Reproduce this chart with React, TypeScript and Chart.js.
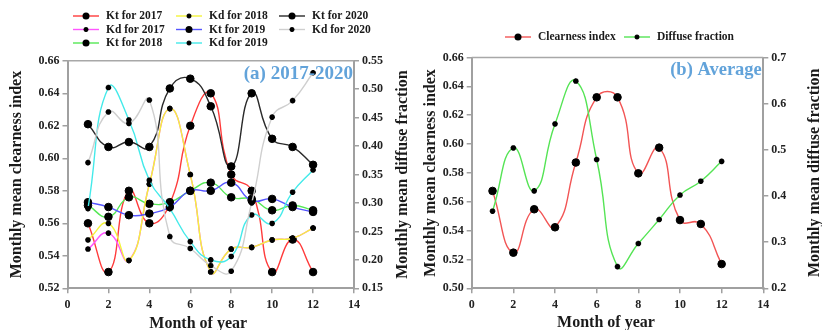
import React, { useEffect, useRef } from 'react';
import { Chart, registerables } from 'chart.js';
Chart.register(...registerables);

const SERIF = '"Liberation Serif", "Times New Roman", serif';

// ---------- data ----------
const MONTHS = [1, 2, 3, 4, 5, 6, 7, 8, 9, 10, 11, 12];

const KT_2017 = [0.560, 0.530, 0.580, 0.560, 0.572, 0.620, 0.640, 0.590, 0.580, 0.530, 0.550, 0.530];
const KD_2017 = [0.219, 0.247, 0.199, 0.333, 0.466, 0.350, 0.179, 0.219, 0.222, 0.235, 0.238, 0.256];
const KT_2018 = [0.571, 0.564, 0.576, 0.572, 0.573, 0.580, 0.585, 0.576, 0.575, 0.568, 0.571, 0.568];
const KD_2018 = [0.235, 0.264, 0.199, 0.333, 0.466, 0.350, 0.179, 0.219, 0.222, 0.235, 0.238, 0.256];
const KT_2019 = [0.573, 0.570, 0.565, 0.566, 0.570, 0.580, 0.580, 0.585, 0.574, 0.575, 0.570, 0.567];
const KD_2019 = [0.290, 0.503, 0.446, 0.340, 0.290, 0.232, 0.200, 0.206, 0.279, 0.264, 0.319, 0.358];
const KT_2020 = [0.621, 0.607, 0.610, 0.607, 0.643, 0.649, 0.632, 0.595, 0.640, 0.612, 0.607, 0.596];
const KD_2020 = [0.371, 0.460, 0.440, 0.481, 0.241, 0.220, 0.190, 0.180, 0.300, 0.451, 0.480, 0.529];

const AVG_CLEARNESS = [0.5675, 0.5247, 0.5548, 0.5423, 0.5872, 0.6324, 0.6324, 0.5797, 0.5975, 0.5473, 0.5446, 0.5168];
const AVG_DIFFUSE = [0.367, 0.504, 0.411, 0.556, 0.649, 0.479, 0.247, 0.297, 0.349, 0.402, 0.432, 0.475];

const X_TITLE = 'Month of year';
const KT_TITLE = 'Monthly mean clearness index';
const KD_TITLE = 'Monthly mean diffuse fraction';

// ---------- helpers ----------
const pts = (vals: number[]) => MONTHS.map((m, i) => ({ x: m, y: vals[i] }));

function series(label: string, vals: number[], color: string, kind: 'kt' | 'kd', axis: string, idx: number) {
  const isKt = kind === 'kt';
  return {
    label,
    data: pts(vals),
    borderColor: color,
    backgroundColor: color,
    borderWidth: 1.4,
    tension: 0.5,
    yAxisID: axis,
    pointStyle: isKt ? 'circle' : 'star',
    pointRadius: isKt ? 3.8 : 2.8,
    pointBorderWidth: isKt ? 1 : 1.8,
    pointBackgroundColor: '#000',
    pointBorderColor: '#000',
    order: 20 - idx,
    kind,
  } as any;
}

function drawMarker(ctx: CanvasRenderingContext2D, kind: string, x: number, y: number, r: number) {
  ctx.save();
  ctx.fillStyle = '#000';
  ctx.strokeStyle = '#000';
  if (kind === 'kt') {
    ctx.beginPath();
    ctx.arc(x, y, r, 0, Math.PI * 2);
    ctx.fill();
  } else {
    ctx.lineWidth = 1.5;
    ctx.beginPath();
    for (let k = 0; k < 4; k++) {
      const a = (k * Math.PI) / 4;
      ctx.moveTo(x - Math.cos(a) * r, y - Math.sin(a) * r);
      ctx.lineTo(x + Math.cos(a) * r, y + Math.sin(a) * r);
    }
    ctx.stroke();
  }
  ctx.restore();
}

const decorPlugin = {
  id: 'decor',
  afterDraw(chart: any, _args: any, opts: any) {
    const ctx: CanvasRenderingContext2D = chart.ctx;
    const ca = chart.chartArea;
    ctx.save();
    // top frame line
    ctx.strokeStyle = '#a8a8a8';
    ctx.lineWidth = 1.5;
    ctx.beginPath();
    ctx.moveTo(ca.left, ca.top);
    ctx.lineTo(ca.right, ca.top);
    ctx.stroke();

    // axis titles
    ctx.fillStyle = '#1a1a1a';
    ctx.textAlign = 'center';
    ctx.textBaseline = 'middle';
    ctx.font = `bold 16px ${SERIF}`;
    const cy = (ca.top + ca.bottom) / 2;
    for (const t of [opts.leftTitle, opts.rightTitle]) {
      ctx.save();
      ctx.translate(t.x, cy);
      ctx.rotate(-Math.PI / 2);
      ctx.fillText(t.text, 0, 0);
      ctx.restore();
    }
    ctx.fillText(opts.xTitle.text, (ca.left + ca.right) / 2 + opts.xTitle.dx, opts.xTitle.y);

    // panel note
    ctx.fillStyle = '#62a3da';
    ctx.font = `bold ${opts.note.size}px ${SERIF}`;
    ctx.textAlign = 'right';
    ctx.fillText(opts.note.text, ca.right + opts.note.dx, ca.top + opts.note.dy);

    // legend
    const lg = opts.legend;
    ctx.font = `bold 11.5px ${SERIF}`;
    ctx.textAlign = 'left';
    chart.data.datasets.forEach((ds: any, i: number) => {
      const col = lg.columnMajor ? Math.floor(i / lg.rows.length) : i % lg.cols.length;
      const row = lg.columnMajor ? i % lg.rows.length : Math.floor(i / lg.cols.length);
      const x = lg.cols[col];
      const y = lg.rows[row];
      ctx.strokeStyle = ds.borderColor;
      ctx.lineWidth = 1.4;
      ctx.beginPath();
      ctx.moveTo(x, y);
      ctx.lineTo(x + 26, y);
      ctx.stroke();
      drawMarker(ctx, ds.kind, x + 13, y, ds.kind === 'kt' ? 3.5 : 2.5);
      ctx.fillStyle = '#1a1a1a';
      ctx.fillText(ds.label, x + 33, y + 0.5);
    });
    ctx.restore();
  },
};

function yAxis(position: 'left' | 'right', min: number, max: number, step: number, digits: number, width: number) {
  return {
    type: 'linear',
    position,
    min,
    max,
    afterFit: (s: any) => { s.width = width; },
    ticks: {
      stepSize: step,
      padding: 3,
      color: '#222',
      font: { family: SERIF, size: 12, weight: 'bold' },
      callback: (v: number) => v.toFixed(digits),
    },
    grid: { display: true, drawOnChartArea: false, drawTicks: true, tickLength: 5, color: '#a0a0a0', lineWidth: 1.5 },
    border: { display: true, color: '#a0a0a0', width: 2 },
  };
}

function xAxis() {
  return {
    type: 'linear',
    position: 'bottom',
    min: 0,
    max: 14,
    afterFit: (s: any) => { s.height = 41.7; },
    ticks: {
      stepSize: 2,
      padding: 4,
      color: '#222',
      font: { family: SERIF, size: 12, weight: 'bold' },
    },
    grid: { display: true, drawOnChartArea: false, drawTicks: true, tickLength: 5, color: '#a0a0a0', lineWidth: 1.5 },
    border: { display: true, color: '#a0a0a0', width: 2 },
  };
}

function makeLeft(canvas: HTMLCanvasElement) {
  const datasets = [
    series('Kt for 2017', KT_2017, '#ff3b3b', 'kt', 'y', 0),
    series('Kd for 2017', KD_2017, '#ff55ff', 'kd', 'y1', 1),
    series('Kt for 2018', KT_2018, '#55e855', 'kt', 'y', 2),
    series('Kd for 2018', KD_2018, '#f4f43a', 'kd', 'y1', 3),
    series('Kt for 2019', KT_2019, '#5555ff', 'kt', 'y', 4),
    series('Kd for 2019', KD_2019, '#44eaea', 'kd', 'y1', 5),
    series('Kt for 2020', KT_2020, '#2a2a2a', 'kt', 'y', 6),
    series('Kd for 2020', KD_2020, '#cfcfcf', 'kd', 'y1', 7),
  ];
  return new Chart(canvas, {
    type: 'line',
    data: { datasets },
    plugins: [decorPlugin],
    options: {
      responsive: false,
      animation: false,
      layout: { padding: { top: 60.8, left: 0, right: 0, bottom: 0 } },
      plugins: {
        legend: { display: false },
        tooltip: { enabled: false },
        decor: {
          leftTitle: { text: KT_TITLE, x: 17 },
          rightTitle: { text: KD_TITLE, x: 403 },
          xTitle: { text: X_TITLE, dx: -12.5, y: 323.5 },
          note: { text: '(a) 2017-2020', size: 19, dx: -1, dy: 13 },
          legend: { columnMajor: true, cols: [73, 176, 279], rows: [16, 29.5, 43] },
        },
      } as any,
      scales: {
        x: xAxis(),
        y: yAxis('left', 0.52, 0.66, 0.02, 2, 67.5),
        y1: yAxis('right', 0.15, 0.55, 0.05, 2, 57),
      } as any,
    },
  });
}

function makeRight(canvas: HTMLCanvasElement) {
  const datasets = [
    series('Clearness index', AVG_CLEARNESS, '#f25555', 'kt', 'y', 0),
    series('Diffuse fraction', AVG_DIFFUSE, '#55e455', 'kd', 'y1', 1),
  ];
  return new Chart(canvas, {
    type: 'line',
    data: { datasets },
    plugins: [decorPlugin],
    options: {
      responsive: false,
      animation: false,
      layout: { padding: { top: 57.5, left: 0, right: 0, bottom: 0 } },
      plugins: {
        legend: { display: false },
        tooltip: { enabled: false },
        decor: {
          leftTitle: { text: KT_TITLE, x: 20 },
          rightTitle: { text: KD_TITLE, x: 404 },
          xTitle: { text: X_TITLE, dx: -11.5, y: 323 },
          note: { text: '(b) Average', size: 18.5, dx: -1.5, dy: 12.5 },
          legend: { columnMajor: false, cols: [94, 213], rows: [37] },
        },
      } as any,
      scales: {
        x: xAxis(),
        y: yAxis('left', 0.5, 0.66, 0.02, 2, 60.7),
        y1: yAxis('right', 0.2, 0.7, 0.1, 1, 58.7),
      } as any,
    },
  });
}

export default function App() {
  const leftRef = useRef<HTMLCanvasElement | null>(null);
  const rightRef = useRef<HTMLCanvasElement | null>(null);

  useEffect(() => {
    Chart.defaults.font.family = SERIF;
    const a = leftRef.current ? makeLeft(leftRef.current) : null;
    const b = rightRef.current ? makeRight(rightRef.current) : null;
    return () => {
      a?.destroy();
      b?.destroy();
    };
  }, []);

  return (
    <div style={{ position: 'absolute', left: 0, top: 0, width: 822, height: 330, background: '#fff', overflow: 'hidden' }}>
      <canvas ref={leftRef} width={411} height={330} style={{ position: 'absolute', left: 0, top: 0, width: 411, height: 330 }} />
      <canvas ref={rightRef} width={411} height={330} style={{ position: 'absolute', left: 411, top: 0, width: 411, height: 330 }} />
    </div>
  );
}
